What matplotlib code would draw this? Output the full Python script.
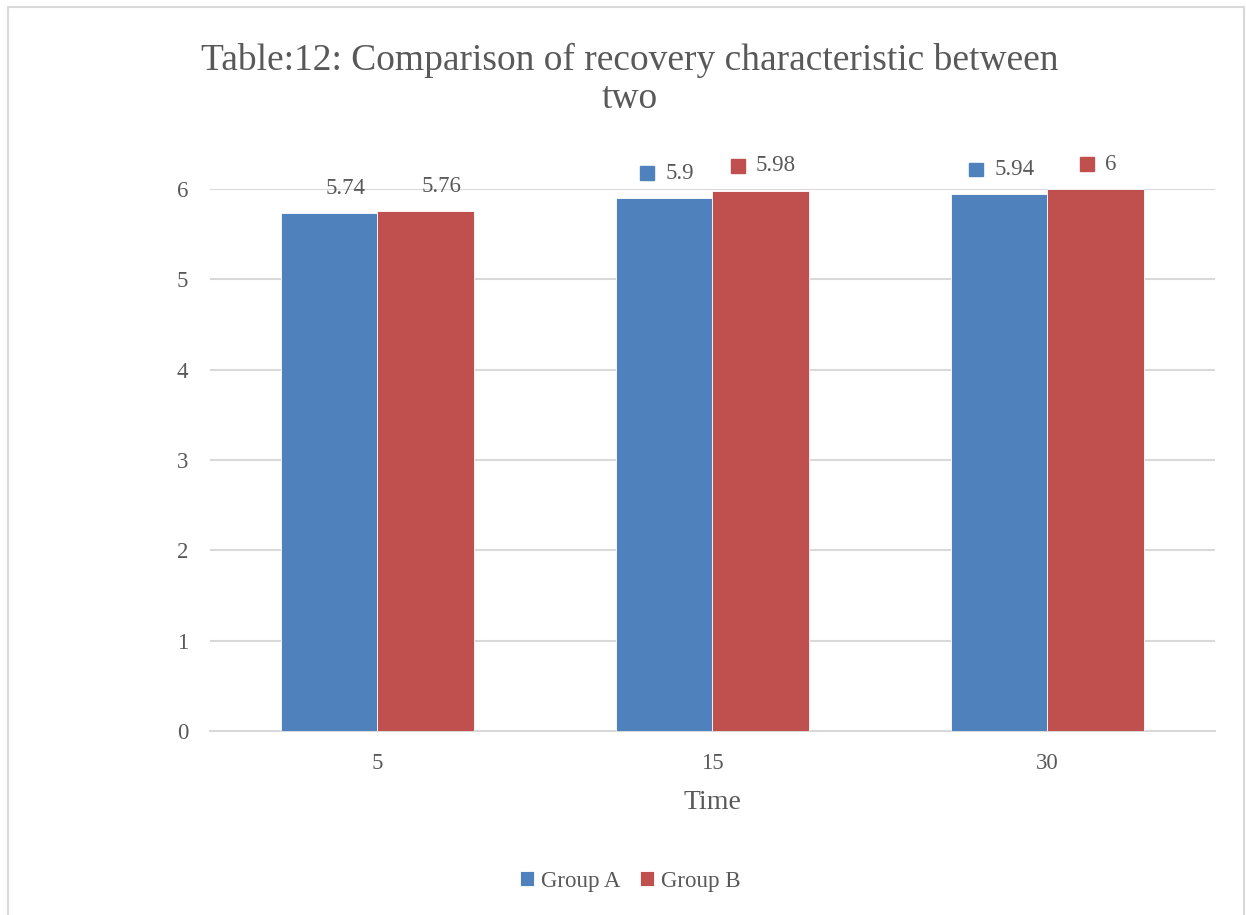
import matplotlib.pyplot as plt
from matplotlib.patches import Rectangle
from matplotlib.offsetbox import AnnotationBbox, DrawingArea, HPacker, TextArea
import numpy as np

# data
times = ['5', '15', '30']
group_a = [5.74, 5.9, 5.94]
group_b = [5.76, 5.98, 6]
series = ['Group A', 'Group B']
colors = ['#4f81bd', '#c0504d']
# the first category shows plain labels, the others show the legend key too
show_key = [False, True, True]

text_gray = '#595959'
grid_gray = '#d9d9d9'
font = 'Liberation Serif'

fig = plt.figure(figsize=(12.46, 9.15), dpi=100)
ax = fig.add_axes([0.1685, 0.2011, 0.8066, 0.5923])

# chart area border
fig.patches.append(Rectangle((8 / 1246, -0.01), (1244 - 8) / 1246, 1.01 - 6.5 / 915,
                             transform=fig.transFigure, fill=False,
                             edgecolor=grid_gray, linewidth=1.5))

x = np.arange(len(times)) + 0.5
w = 0.288
bars_a = ax.bar(x - w / 2, group_a, w, color=colors[0], label=series[0],
                edgecolor='white', linewidth=0.6, zorder=3)
bars_b = ax.bar(x + w / 2, group_b, w, color=colors[1], label=series[1],
                edgecolor='white', linewidth=0.6, zorder=3)

ax.set_xlim(0, 3)
ax.set_ylim(0, 6)
ax.set_yticks(range(7))
ax.set_xticks(x)
ax.set_xticklabels(times)
ax.yaxis.grid(True, color=grid_gray, linewidth=1.5, zorder=0)
ax.set_axisbelow(True)
for s in ['top', 'right', 'left']:
    ax.spines[s].set_visible(False)
ax.spines['bottom'].set_color(grid_gray)
ax.spines['bottom'].set_linewidth(1.5)
ax.tick_params(length=0, labelsize=16.5, labelcolor=text_gray)
ax.tick_params(axis='y', pad=15.5)
ax.tick_params(axis='x', pad=16)
for lbl in ax.get_xticklabels() + ax.get_yticklabels():
    lbl.set_family(font)

ax.set_xlabel('Time', fontsize=20, color=text_gray, family=font, labelpad=11.5)

# data labels
for bars, vals, col in [(bars_a, group_a, colors[0]), (bars_b, group_b, colors[1])]:
    for i, (b, v) in enumerate(zip(bars, vals)):
        cx = b.get_x() + b.get_width() / 2
        if not show_key[i]:
            ax.annotate(f'{v:g}', (cx, v), xytext=(16, 24), textcoords='offset pixels',
                        ha='center', va='center', fontsize=16.5, color=text_gray,
                        family=font, annotation_clip=False)
        else:
            da = DrawingArea(10, 10, 0, 0)
            da.add_artist(Rectangle((0, 0), 10, 10, color=col))
            ta = TextArea(f'{v:g}', textprops=dict(fontsize=16.5, color=text_gray, family=font))
            box = HPacker(children=[da, ta], align='center', pad=0, sep=8)
            ab = AnnotationBbox(box, (cx, v), xybox=(2, 18), boxcoords='offset points',
                                frameon=False, annotation_clip=False)
            ax.add_artist(ab)

fig.suptitle('Table:12: Comparison of recovery characteristic between\ntwo',
             x=0.5056, y=0.953, fontsize=27, color=text_gray, family=font,
             linespacing=1.12)

fig.legend(loc='center', bbox_to_anchor=(0.506, 0.037), ncol=2, frameon=False,
           prop={'family': font, 'size': 16.5}, labelcolor=text_gray,
           handlelength=0.62, handleheight=0.62, handletextpad=0.3, columnspacing=0.85)

fig.savefig('out.png', dpi=100)
